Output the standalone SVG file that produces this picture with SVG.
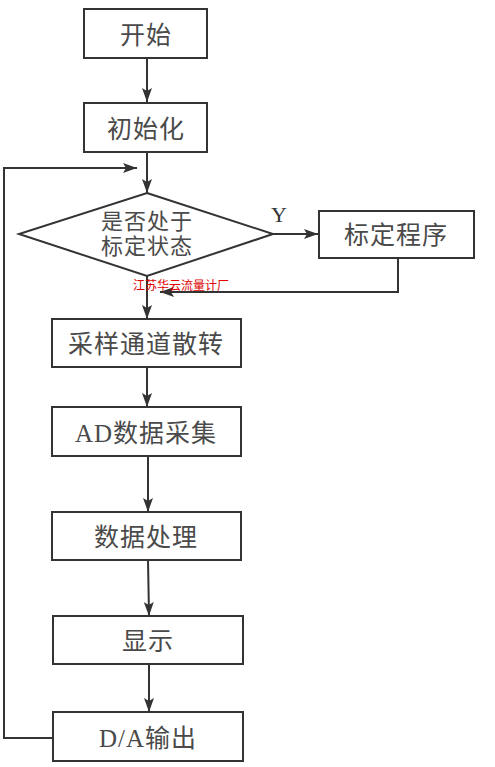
<svg xmlns="http://www.w3.org/2000/svg" width="495" height="767" viewBox="0 0 495 767">
<style>
.box{fill:#fff;stroke:#333;stroke-width:2}
.t{font-family:"Liberation Serif","Noto Sans CJK SC",serif;font-size:25px;fill:#4a4a4a;text-anchor:middle;dominant-baseline:central;letter-spacing:1px}
.c{fill:none;stroke:#333;stroke-width:2}
.wm{font-family:"Noto Sans CJK SC",sans-serif;font-size:12px;fill:#e00000}
</style>
<defs>
<marker id="a" viewBox="0 0 14 10" refX="14" refY="5" markerWidth="14" markerHeight="10" markerUnits="userSpaceOnUse" orient="auto">
<path d="M0,0 L14,5 L0,10 L3,5 Z" fill="#333"/>
</marker>
</defs>
<rect width="495" height="767" fill="#fff"/>
<g id="connectors">
<line class="c" x1="147" y1="58" x2="147" y2="102" marker-end="url(#a)"/>
<line class="c" x1="147" y1="152" x2="147" y2="193" marker-end="url(#a)"/>
<line class="c" x1="273" y1="234" x2="318" y2="234" marker-end="url(#a)"/>
<polyline class="c" points="398,258 398,292 160,292" marker-end="url(#a)"/>
<line class="c" x1="147" y1="276" x2="147" y2="319" marker-end="url(#a)"/>
<line class="c" x1="147" y1="367" x2="147" y2="407" marker-end="url(#a)"/>
<line class="c" x1="148" y1="456" x2="148" y2="512" marker-end="url(#a)"/>
<line class="c" x1="148" y1="560" x2="149" y2="616" marker-end="url(#a)"/>
<line class="c" x1="149" y1="664" x2="149" y2="712" marker-end="url(#a)"/>
<polyline class="c" points="53,738 4,738 4,168 137,168" marker-end="url(#a)"/>
<text x="279" y="222" style="font-family:'Liberation Serif',serif;font-size:22px;fill:#333;text-anchor:middle">Y</text>
</g>
<g id="start"><rect class="box" x="84" y="9" width="123" height="49"/><text class="t" x="146" y="35">开始</text></g>
<g id="init"><rect class="box" x="84" y="103" width="123" height="49"/><text class="t" x="146" y="129">初始化</text></g>
<g id="decision"><polygon class="box" points="147,193 273,234 147,276 19,234"/>
<text class="t" x="147" y="221" style="font-size:22px">是否处于</text>
<text class="t" x="147" y="246" style="font-size:22px">标定状态</text></g>
<g id="calib"><rect class="box" x="319" y="211" width="155" height="47"/><text class="t" x="396" y="235">标定程序</text></g>
<g id="scan"><rect class="box" x="52" y="319" width="189" height="48"/><text class="t" x="146" y="344">采样通道散转</text></g>
<g id="ad"><rect class="box" x="52" y="407" width="189" height="49"/><text class="t" x="146" y="433">AD数据采集</text></g>
<g id="proc"><rect class="box" x="52" y="512" width="189" height="48"/><text class="t" x="146" y="537">数据处理</text></g>
<g id="disp"><rect class="box" x="53" y="616" width="190" height="48"/><text class="t" x="148" y="641">显示</text></g>
<g id="da"><rect class="box" x="53" y="712" width="190" height="49"/><text class="t" x="148" y="738">D/A输出</text></g>
<text class="wm" x="133" y="290">江苏华云流量计厂</text>
</svg>
